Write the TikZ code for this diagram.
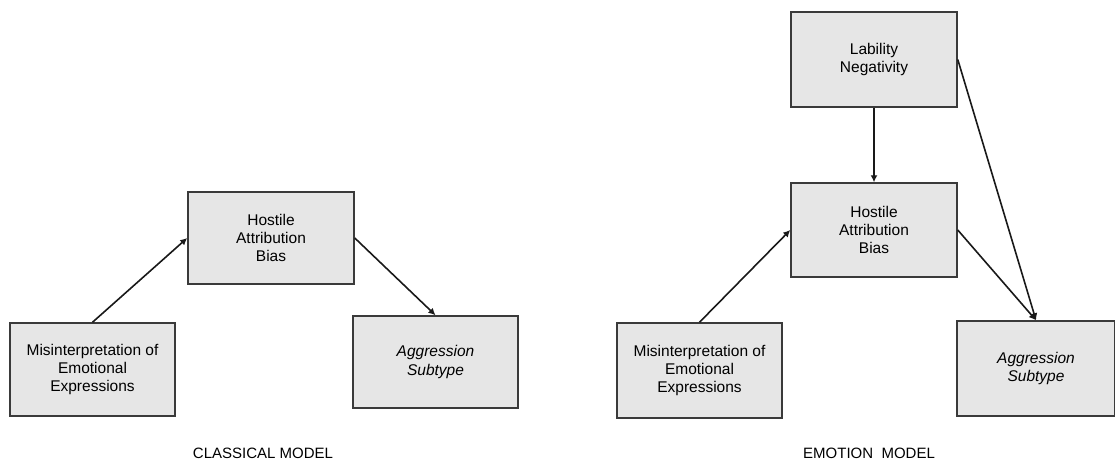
\documentclass[tikz,border=0pt]{standalone}
\usepackage{fontspec}
\setmainfont{Liberation Sans}
\usetikzlibrary{arrows.meta}
\definecolor{boxfill}{HTML}{E6E6E6}
\definecolor{boxline}{HTML}{3A3A3A}
\tikzset{
  box/.style={draw=boxline, fill=boxfill, line width=1.5pt, inner sep=0pt,
    align=center, font=\fontsize{15.5}{18.3}\selectfont},
  conn/.style={draw=black!90, line width=1.6pt, -{Latex[length=7pt,width=7pt]}},
  caption/.style={font=\fontsize{15}{18}\selectfont, inner sep=0pt}
}
\begin{document}
\begin{tikzpicture}[x=1pt,y=-1pt]
\useasboundingbox (0,0) rectangle (1115,461);
% Classical model
\node[box, minimum width=165pt, minimum height=93pt] (cm) at (92.5,369.5) {Misinterpretation of\\Emotional\\Expressions};
\node[box, minimum width=166pt, minimum height=92pt] (ch) at (271,238) {Hostile\\Attribution\\Bias};
\node[box, minimum width=165pt, minimum height=92pt] (ca) at (435.5,362) {\itshape Aggression\\\itshape Subtype};
\draw[conn] (cm.north) -- (ch.west);
\draw[conn] (ch.east) -- (ca.north);
\node[caption] (cl) at (263,453) {CLASSICAL MODEL};
% Emotion model
\node[box, minimum width=166pt, minimum height=95pt] (el) at (874,59.5) {Lability\\Negativity};
\node[box, minimum width=166pt, minimum height=94pt] (eh) at (874,230) {Hostile\\Attribution\\Bias};
\node[box, minimum width=165pt, minimum height=95pt] (em) at (699.5,370.5) {Misinterpretation of\\Emotional\\Expressions};
\node[box, minimum width=158pt, minimum height=95pt] (ea) at (1036,368.5) {\itshape Aggression\\\itshape Subtype};
\draw[conn] (em.north) -- (eh.west);
\draw[conn] (el.south) -- (eh.north);
\draw[conn] (el.east) -- (ea.north);
\draw[conn] (eh.east) -- (ea.north);
\node[caption] (ec) at (869,453) {EMOTION\ \ MODEL};
\end{tikzpicture}
\end{document}
